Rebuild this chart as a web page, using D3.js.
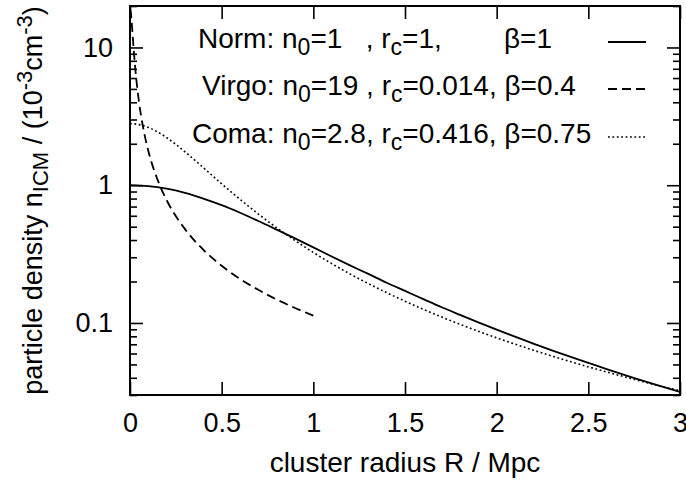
<!DOCTYPE html>
<html>
<head>
<meta charset="utf-8">
<script src="https://cdn.jsdelivr.net/npm/d3@7"></script>
<style>
  body { margin: 0; background: #fff; }
  text { font-family: "Liberation Sans", Arial, sans-serif; fill: #000; }
</style>
</head>
<body>
<script>
// beta-model density profiles
const normR = [0, 0.1, 0.2, 0.3, 0.4, 0.5, 0.6, 0.7, 0.8, 0.9, 1.0, 1.1, 1.2, 1.3, 1.4, 1.5, 1.6, 1.7, 1.8, 1.9, 2.0, 2.2, 2.4, 2.6, 2.8, 3.0];
const normN = [1, 0.985, 0.943, 0.879, 0.800, 0.716, 0.631, 0.550, 0.476, 0.411, 0.354, 0.304, 0.262, 0.227, 0.196, 0.171, 0.149, 0.130, 0.1145, 0.101, 0.0894, 0.0709, 0.0569, 0.0463, 0.0380, 0.0316];

const virgoR = [0, 0.005, 0.01, 0.015, 0.02, 0.03, 0.04, 0.05, 0.07, 0.1, 0.15, 0.2, 0.3, 0.4, 0.5, 0.6, 0.7, 0.8, 0.9, 1.0];
const virgoN = [19, 17.68, 14.84, 12.01, 9.75, 6.76, 5.03, 3.94, 2.69, 1.774, 1.098, 0.779, 0.480, 0.340, 0.260, 0.209, 0.174, 0.148, 0.1285, 0.113];

const comaR = [0, 0.05, 0.1, 0.15, 0.2, 0.25, 0.3, 0.4, 0.5, 0.6, 0.7, 0.8, 0.9, 1.0, 1.2, 1.4, 1.6, 1.8, 2.0, 2.2, 2.4, 2.6, 2.8, 3.0];
const comaN = [2.8, 2.755, 2.629, 2.440, 2.216, 1.979, 1.748, 1.341, 1.024, 0.790, 0.618, 0.491, 0.397, 0.325, 0.227, 0.166, 0.1256, 0.0978, 0.0780, 0.0635, 0.0525, 0.0441, 0.0374, 0.0322];

const xTicks = [0, 0.5, 1, 1.5, 2, 2.5, 3];
const yMajor = [0.1, 1, 10];
const yMinor = [0.03, 0.04, 0.05, 0.06, 0.07, 0.08, 0.09, 0.2, 0.3, 0.4, 0.5, 0.6, 0.7, 0.8, 0.9, 2, 3, 4, 5, 6, 7, 8, 9, 20];

const width = 686, height = 487;
const pLeft = 130, pRight = 680, pTop = 6, pBottom = 395;

const svg = d3.select("body").append("svg")
  .attr("width", width)
  .attr("height", height);

const x = d3.scaleLinear().domain([0, 3]).range([pLeft, pRight]);
const y = d3.scaleLog().domain([0.03, 20]).range([pBottom, pTop]);

function styleAxis(g) {
  g.attr("font-family", null).attr("font-size", 27);
  g.select(".domain").remove();
  g.selectAll(".tick line").attr("stroke", "#000").attr("stroke-width", 1.6);
  g.selectAll(".tick text").attr("fill", "#000");
}

// x axis, bottom with labels, top mirrored
svg.append("g")
  .attr("transform", "translate(0," + pBottom + ")")
  .call(d3.axisBottom(x).tickValues(xTicks).tickSize(-13).tickPadding(18)
    .tickFormat(d => String(d)))
  .call(styleAxis);
svg.append("g")
  .attr("transform", "translate(0," + pTop + ")")
  .call(d3.axisTop(x).tickValues(xTicks).tickSize(-13).tickFormat(""))
  .call(styleAxis);

// y axis, left with labels, right mirrored
svg.append("g")
  .attr("transform", "translate(" + pLeft + ",0)")
  .call(d3.axisLeft(y).tickValues(yMajor).tickSize(-13).tickPadding(17)
    .tickFormat(d => String(d)))
  .call(styleAxis);
svg.append("g")
  .attr("transform", "translate(" + pLeft + ",0)")
  .call(d3.axisLeft(y).tickValues(yMinor).tickSize(-7).tickFormat(""))
  .call(styleAxis);
svg.append("g")
  .attr("transform", "translate(" + pRight + ",0)")
  .call(d3.axisRight(y).tickValues(yMajor).tickSize(-13).tickFormat(""))
  .call(styleAxis);
svg.append("g")
  .attr("transform", "translate(" + pRight + ",0)")
  .call(d3.axisRight(y).tickValues(yMinor).tickSize(-7).tickFormat(""))
  .call(styleAxis);

// frame
svg.append("rect")
  .attr("x", pLeft).attr("y", pTop)
  .attr("width", pRight - pLeft).attr("height", pBottom - pTop)
  .attr("fill", "none").attr("stroke", "#000").attr("stroke-width", 2);

// curves
svg.append("clipPath").attr("id", "plot")
  .append("rect").attr("x", pLeft).attr("y", pTop)
  .attr("width", pRight - pLeft).attr("height", pBottom - pTop);

const line = d3.line()
  .x(d => x(d[0]))
  .y(d => y(d[1]))
  .curve(d3.curveMonotoneX);

const series = [
  { r: normR, n: normN, dash: null },
  { r: virgoR, n: virgoN, dash: "9,5" },
  { r: comaR, n: comaN, dash: "1.8,2.6" }
];

svg.append("g").attr("clip-path", "url(#plot)")
  .selectAll("path")
  .data(series)
  .enter()
  .append("path")
  .attr("d", s => line(s.r.map((v, i) => [v, s.n[i]])))
  .attr("fill", "none")
  .attr("stroke", "#000")
  .attr("stroke-width", s => s.dash === "1.8,2.6" ? 1.6 : 1.8)
  .attr("stroke-dasharray", s => s.dash);

// legend
const legendRows = [
  { x: 198, y: 42, dash: null,
    parts: [["Norm: n", 0], ["0", -1], ["=1   , r", 0], ["c", -1], ["=1,        \u03b2=1", 0]] },
  { x: 202, y: 89, dash: "9,5",
    parts: [["Virgo: n", 0], ["0", -1], ["=19 , r", 0], ["c", -1], ["=0.014, \u03b2=0.4", 0]] },
  { x: 192, y: 137, dash: "1.8,2.6",
    parts: [["Coma: n", 0], ["0", -1], ["=2.8, r", 0], ["c", -1], ["=0.416, \u03b2=0.75", 0]] }
];

const legend = svg.selectAll(".legend")
  .data(legendRows)
  .enter()
  .append("g")
  .attr("class", "legend");

legend.append("text")
  .attr("x", d => d.x)
  .attr("y", d => d.y + 6)
  .attr("font-size", 28)
  .style("white-space", "pre")
  .selectAll("tspan")
  .data(d => d.parts)
  .enter()
  .append("tspan")
  .attr("font-size", p => p[1] < 0 ? 23 : 28)
  .attr("dy", (p, i) => {
    if (p[1] < 0) return 7;
    return i > 0 ? -7 : 0;
  })
  .text(p => p[0]);

legend.append("line")
  .attr("x1", 608).attr("x2", 646)
  .attr("y1", d => d.y).attr("y2", d => d.y)
  .attr("stroke", "#000")
  .attr("stroke-width", d => d.dash === "1.8,2.6" ? 1.6 : 1.8)
  .attr("stroke-dasharray", d => d.dash);

// axis titles
svg.append("text")
  .attr("x", (pLeft + pRight) / 2)
  .attr("y", 472)
  .attr("text-anchor", "middle")
  .attr("font-size", 28)
  .text("cluster radius R / Mpc");

const yTitle = svg.append("text")
  .attr("transform", "translate(42," + (pTop + pBottom) / 2 + ") rotate(-90)")
  .attr("text-anchor", "middle")
  .attr("font-size", 27);
yTitle.append("tspan").text("particle density n");
yTitle.append("tspan").attr("font-size", 22).attr("dy", 6).text("ICM");
yTitle.append("tspan").attr("dy", -6).text(" / (10");
yTitle.append("tspan").attr("font-size", 22).attr("dy", -10).text("-3");
yTitle.append("tspan").attr("dy", 10).text("cm");
yTitle.append("tspan").attr("font-size", 22).attr("dy", -10).text("-3");
yTitle.append("tspan").attr("dy", 10).text(")");
</script>
</body>
</html>
